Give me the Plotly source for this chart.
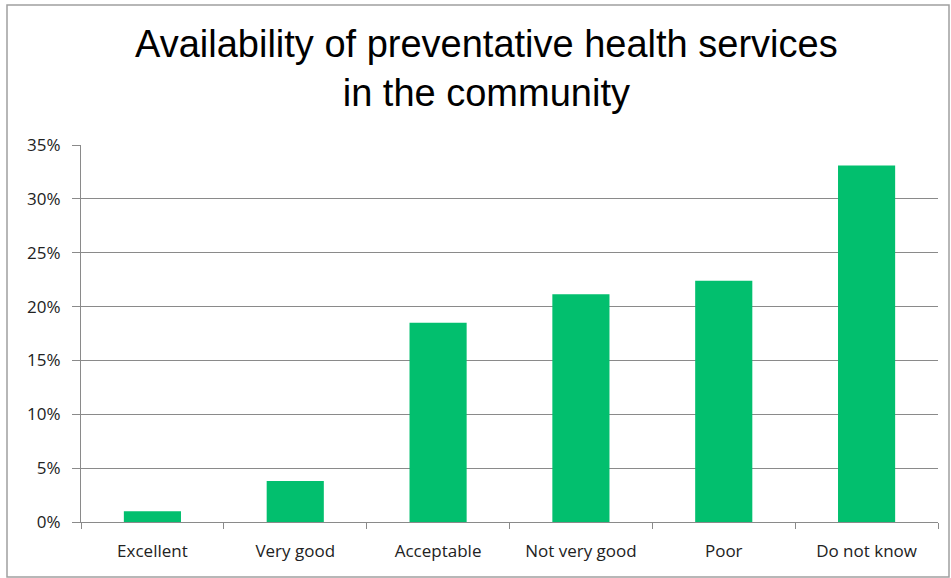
import plotly.graph_objects as go

categories = ["Excellent", "Very good", "Acceptable", "Not very good", "Poor", "Do not know"]
shares = [0.010, 0.038, 0.185, 0.2115, 0.224, 0.331]
y_ticks = [0, 0.05, 0.10, 0.15, 0.20, 0.25, 0.30, 0.35]

W, H = 951, 578
L, R, T, B = 81, 13, 145, 56
pw, ph = W - L - R, H - T - B

fig = go.Figure(
    go.Bar(
        x=categories,
        y=shares,
        marker_color="#02BF6E",
        marker_line_width=0,
        width=0.4,
    )
)

fig.update_layout(
    width=W,
    height=H,
    margin=dict(l=L, r=R, t=T, b=B),
    plot_bgcolor="white",
    paper_bgcolor="white",
    showlegend=False,
    font=dict(family="Open Sans, Lato, sans-serif", size=17, color="#222222"),
)

# two-line title as an annotation so it sits where the reference has it
fig.add_annotation(
    text="Availability of preventative health services<br>in the community",
    xref="paper",
    yref="paper",
    x=(486 - L) / pw,
    xanchor="center",
    y=1 + (T - 69) / ph,
    yanchor="middle",
    showarrow=False,
    font=dict(family="Liberation Sans, Arial", size=38, color="#000000"),
)

fig.update_xaxes(
    type="category",
    automargin=False,
    showline=True,
    linecolor="#8a8a8a",
    linewidth=1,
    ticks="outside",
    tickson="boundaries",
    ticklen=6,
    tickcolor="#8a8a8a",
    ticklabelstandoff=14,
    showgrid=False,
)
fig.update_yaxes(
    range=[0, 0.35],
    automargin=False,
    tickvals=y_ticks,
    tickformat=".0%",
    showline=True,
    linecolor="#8a8a8a",
    linewidth=1,
    ticks="outside",
    ticklen=8,
    tickcolor="#8a8a8a",
    ticklabelstandoff=8,
    showgrid=True,
    gridcolor="#8a8a8a",
    gridwidth=1,
    zeroline=False,
)

# outer chart border
fig.add_shape(
    type="rect",
    xref="paper",
    yref="paper",
    x0=(7 - L) / pw,
    x1=(949 - L) / pw,
    y0=-(577 - (H - B)) / ph,
    y1=1 + (T - 5) / ph,
    line=dict(color="#a0a0a0", width=1.5),
    layer="below",
)

# drop the browser's default page margin so the figure starts at the corner
fig.write_html(
    "out.html",
    config={"displayModeBar": False},
    post_script="document.body.style.margin = '0';",
)
